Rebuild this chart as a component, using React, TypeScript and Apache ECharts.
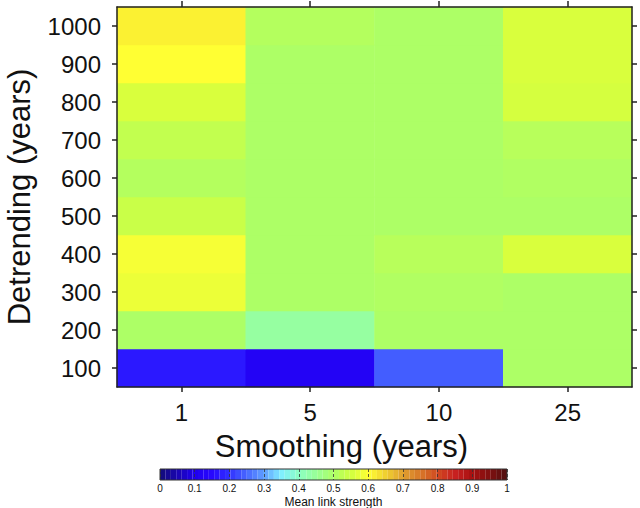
import React, { useEffect, useRef } from "react";
import * as echarts from "echarts";

const smoothing = ["1", "5", "10", "25"];
const detrending = ["100", "200", "300", "400", "500", "600", "700", "800", "900", "1000"];

// mean link strength per detrending row (order of smoothing columns 1,5,10,25)
const row100 = [0.17, 0.12, 0.24, 0.5];
const row200 = [0.5, 0.44, 0.5, 0.5];
const row300 = [0.58, 0.5, 0.505, 0.5];
const row400 = [0.59, 0.5, 0.515, 0.56];
const row500 = [0.54, 0.5, 0.5, 0.5];
const row600 = [0.51, 0.5, 0.5, 0.505];
const row700 = [0.53, 0.5, 0.5, 0.515];
const row800 = [0.56, 0.5, 0.5, 0.555];
const row900 = [0.6, 0.5, 0.5, 0.56];
const row1000 = [0.615, 0.51, 0.5, 0.56];

const rows = [row100, row200, row300, row400, row500, row600, row700, row800, row900, row1000];

const palette = [
  "#120c78", "#1a06b0", "#2000ee", "#2808ff", "#3030ff", "#4868ff", "#60a0ff",
  "#80eeff", "#8cffc4", "#98ff98", "#adff66", "#d0ff40", "#ffff33", "#f0d030",
  "#e0a030", "#d87828", "#d04820", "#c82020", "#a81010", "#801010", "#501010",
];

const FONT = "'Liberation Sans', Arial, Helvetica, sans-serif";
const TXT = "#111";

export default function App() {
  const ref = useRef<HTMLDivElement>(null);
  useEffect(() => {
    document.body.style.margin = "0";
    if (!ref.current) return;
    const chart = echarts.init(ref.current, undefined, { renderer: "svg" });

    const heatData: number[][] = [];
    rows.forEach((r, yi) => r.forEach((v, xi) => heatData.push([xi, yi, v])));

    const nSteps = 64;
    const stepCats: string[] = [];
    const stepData: any[] = [];
    for (let i = 0; i < nSteps; i++) {
      const t = (i + 0.5) / nSteps;
      stepCats.push(String(i));
      stepData.push({ value: 1, itemStyle: { color: echarts.color.lerp(t, palette) } });
    }

    const axisLineStyle = { color: "#222", width: 1.5 };

    chart.setOption({
      animation: false,
      textStyle: { fontFamily: FONT },
      grid: [
        { left: 117, right: 8, top: 7, height: 380, outerBoundsMode: "none", containLabel: false },
        {
          left: 160, width: 347, top: 469, height: 11, outerBoundsMode: "none", containLabel: false,
          show: true, borderColor: "#333", borderWidth: 1, z: 20, backgroundColor: "transparent",
        },
      ],
      xAxis: [
        {
          type: "category", data: smoothing, gridIndex: 0, position: "bottom", z: 10,
          axisLine: { show: true, lineStyle: axisLineStyle },
          axisTick: { show: true, alignWithLabel: true, length: 5, lineStyle: axisLineStyle },
          axisLabel: { fontSize: 24, color: TXT, margin: 13, fontFamily: FONT },
          name: "Smoothing (years)", nameLocation: "middle", nameGap: 44,
          nameTextStyle: { fontSize: 31, color: TXT, fontFamily: FONT, padding: [0, 66, 0, 0] },
          splitLine: { show: false },
        },
        {
          type: "category", data: smoothing, gridIndex: 0, position: "top", z: 10,
          axisLine: { show: true, lineStyle: axisLineStyle },
          axisTick: { show: true, alignWithLabel: true, length: 6, lineStyle: axisLineStyle },
          axisLabel: { show: false },
          splitLine: { show: false },
        },
        {
          type: "category", data: stepCats, gridIndex: 1, show: false,
        },
        {
          type: "value", gridIndex: 1, min: 0, max: 1, interval: 0.1, position: "bottom", z: 15,
          axisLine: { show: false }, axisTick: { show: false },
          splitLine: { show: true, lineStyle: { color: "#333", type: [3, 2], width: 0.8 } },
          axisLabel: {
            fontSize: 10, color: TXT, margin: 3, fontFamily: FONT,
            formatter: (v: number) => String(Math.round(v * 10) / 10),
          },
          name: "Mean link strength", nameLocation: "middle", nameGap: 16,
          nameTextStyle: { fontSize: 12, color: TXT, fontFamily: FONT },
        },
      ],
      yAxis: [
        {
          type: "category", data: detrending, gridIndex: 0, position: "left", z: 10,
          axisLine: { show: true, lineStyle: axisLineStyle },
          axisTick: { show: true, alignWithLabel: true, length: 5, lineStyle: axisLineStyle },
          axisLabel: { fontSize: 24, color: TXT, margin: 16, fontFamily: FONT },
          name: "Detrending (years)", nameLocation: "middle", nameGap: 82,
          nameTextStyle: { fontSize: 31, color: TXT, fontFamily: FONT },
          splitLine: { show: false },
        },
        {
          type: "category", data: detrending, gridIndex: 0, position: "right", z: 10,
          axisLine: { show: true, lineStyle: axisLineStyle },
          axisTick: { show: true, alignWithLabel: true, length: 5, lineStyle: axisLineStyle },
          axisLabel: { show: false },
          splitLine: { show: false },
        },
        {
          type: "value", gridIndex: 1, min: 0, max: 1, show: false,
        },
      ],
      visualMap: {
        show: false, min: 0, max: 1, seriesIndex: 0, dimension: 2,
        inRange: { color: palette },
      },
      series: [
        {
          type: "heatmap", xAxisIndex: 0, yAxisIndex: 0, data: heatData,
          itemStyle: { borderWidth: 0 },
        },
        {
          type: "bar", xAxisIndex: 2, yAxisIndex: 2, data: stepData,
          barCategoryGap: "0%", barWidth: "101%", silent: true,
        },
      ],
    });
    return () => chart.dispose();
  }, []);
  return <div ref={ref} style={{ width: 640, height: 508 }} />;
}
